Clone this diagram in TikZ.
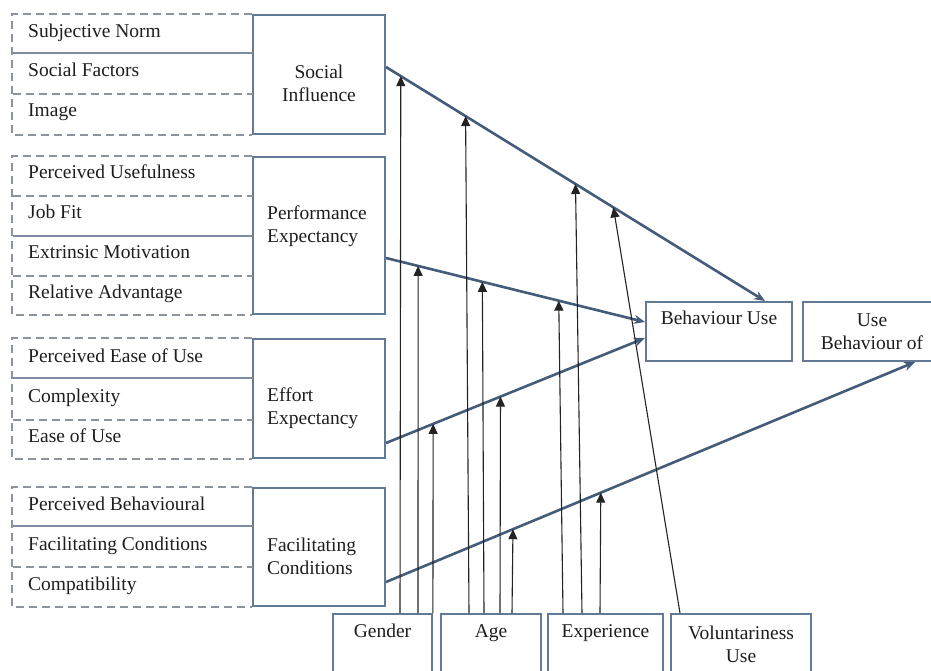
\documentclass[tikz,border=0pt]{standalone}
\usepackage{fontspec}
\setmainfont{Liberation Serif}
\usetikzlibrary{arrows.meta}
\definecolor{boxline}{RGB}{98,122,150}
\definecolor{pathline}{RGB}{66,92,122}
\definecolor{dashline}{RGB}{140,148,158}
\definecolor{rowline}{RGB}{125,140,160}
\definecolor{modline}{RGB}{35,35,35}
\definecolor{textcol}{RGB}{30,30,30}
\tikzstyle{every node}=[inner sep=0pt, text=textcol, font=\rmfamily\fontsize{19.5}{23}\selectfont]
\tikzstyle{construct}=[draw=boxline, line width=2pt, minimum width=132pt]
\tikzstyle{outbox}=[draw=boxline, line width=2pt, minimum height=59pt]
\tikzstyle{modbox}=[draw=boxline, line width=1.8pt, minimum height=66pt]
\tikzstyle{item}=[anchor=west, text height=13pt, text depth=4pt]
\tikzstyle{word}=[text height=13pt, text depth=4pt]
\tikzstyle{dashframe}=[draw=dashline, line width=1.2pt, dash pattern=on 8pt off 5pt]
\tikzstyle{solidrow}=[draw=rowline, line width=1.2pt]
\tikzstyle{influence}=[draw=pathline, line width=2.6pt, -{Stealth[length=11pt,width=9pt]}]
\tikzstyle{moderator}=[draw=modline, line width=1.1pt, -{Triangle[length=10pt,width=9pt]}]

\begin{document}
\begin{tikzpicture}[x=1pt, y=-1pt]
            \useasboundingbox (0,0) rectangle (931,670);
            \clip (0,0) rectangle (931,670);

            \node[construct, minimum height=119pt] (si) at (319,74.5) {};
            \node[construct, minimum height=157pt] (pe) at (319,235.5) {};
            \node[construct, minimum height=119pt] (ee) at (319,398.5) {};
            \node[construct, minimum height=118pt] (fc) at (319,547) {};

            \draw[dashframe] (si.north west) -- ++(-240,0) |- (si.south west);
            \draw[dashframe] (pe.north west) -- ++(-240,0) |- (pe.south west);
            \draw[dashframe] (ee.north west) -- ++(-240,0) |- (ee.south west);
            \draw[dashframe] (fc.north west) -- ++(-240,0) |- (fc.south west);

            \draw[solidrow] (13,53) -- (253,53);
            \draw[dashframe] (13,94) -- (253,94);
            \draw[dashframe] (13,196) -- (253,196);
            \draw[solidrow] (13,236) -- (253,236);
            \draw[dashframe] (13,276) -- (253,276);
            \draw[solidrow] (13,378) -- (253,378);
            \draw[dashframe] (13,420) -- (253,420);
            \draw[solidrow] (13,526) -- (253,526);
            \draw[dashframe] (13,567) -- (253,567);

            \node[item] (sn) at (28,33) {Subjective Norm};
            \node[item] (sf) at (28,72) {Social Factors};
            \node[item] (im) at (28,112) {Image};
            \node[item] (pu) at (28,174) {Perceived Usefulness};
            \node[item] (jf) at (28,214) {Job Fit};
            \node[item] (em) at (28,254) {Extrinsic Motivation};
            \node[item] (ra) at (28,294) {Relative Advantage};
            \node[item] (peou) at (28,358) {Perceived Ease of Use};
            \node[item] (cx) at (28,398) {Complexity};
            \node[item] (eou) at (28,438) {Ease of Use};
            \node[item] (pb) at (28,506) {Perceived Behavioural};
            \node[item] (fcd) at (28,546) {Facilitating Conditions};
            \node[item] (cp) at (28,586) {Compatibility};

            \node[align=center] (si-txt) at (319,83.5) {Social\\Influence};
            \node[align=left, anchor=west] (pe-txt) at (267,226) {Performance\\Expectancy};
            \node[align=left, anchor=west] (ee-txt) at (267,408.5) {Effort\\Expectancy};
            \node[align=left, anchor=west] (fc-txt) at (267,556) {Facilitating\\Conditions};

            \node[outbox, minimum width=146pt] (bu) at (719,331.5) {};
            \node[outbox, minimum width=138pt] (ub) at (872,331.5) {};
            \node[word] (bu-txt) at (719,320) {Behaviour Use};
            \node[align=center] (ub-txt) at (872,331.5) {Use\\Behaviour of};

            \node[modbox, minimum width=99pt] (gen) at (382.5,647) {};
            \node[modbox, minimum width=100pt] (age) at (491,647) {};
            \node[modbox, minimum width=115pt] (exp) at (605.5,647) {};
            \node[modbox, minimum width=140pt] (vol) at (741,647) {};
            \node[word] (gen-txt) at (382.5,633) {Gender};
            \node[word] (age-txt) at (491,633) {Age};
            \node[word] (exp-txt) at (605.5,633) {Experience};
            \node[align=center] (vol-txt) at (741,644) {Voluntariness\\Use};

            \draw[influence] ([yshift=7.5pt]si.east) -- ([xshift=46pt]bu.north)
                coordinate[pos=0.039] (si-gen) coordinate[pos=0.21] (si-age)
                coordinate[pos=0.5] (si-exp) coordinate[pos=0.6] (si-vol);
            \draw[influence] ([yshift=-22.5pt]pe.east) -- ([yshift=9.5pt]bu.west)
                coordinate[pos=0.124] (pe-gen) coordinate[pos=0.372] (pe-age)
                coordinate[pos=0.667] (pe-exp);
            \draw[influence] ([yshift=-44.5pt]ee.east) -- ([yshift=-6.5pt]bu.west)
                coordinate[pos=0.182] (ee-gen) coordinate[pos=0.442] (ee-age);
            \draw[influence] ([yshift=-35pt]fc.east) -- ([xshift=43pt]ub.south)
                coordinate[pos=0.24] (fc-age) coordinate[pos=0.406] (fc-exp);

            \draw[moderator] ([xshift=17.5pt]gen.north) -- (si-gen);
            \draw[moderator] ([xshift=35.5pt]gen.north) -- (pe-gen);
            \draw[moderator] (gen.north east) -- (ee-gen);
            \draw[moderator] ([xshift=-22pt]age.north) -- (si-age);
            \draw[moderator] ([xshift=-7pt]age.north) -- (pe-age);
            \draw[moderator] ([xshift=9pt]age.north) -- (ee-age);
            \draw[moderator] ([xshift=21pt]age.north) -- (fc-age);
            \draw[moderator] ([xshift=-42.5pt]exp.north) -- (pe-exp);
            \draw[moderator] ([xshift=-23.5pt]exp.north) -- (si-exp);
            \draw[moderator] ([xshift=-5.5pt]exp.north) -- (fc-exp);
            \draw[moderator] ([xshift=-61pt]vol.north) -- (si-vol);
        \end{tikzpicture}
\end{document}
